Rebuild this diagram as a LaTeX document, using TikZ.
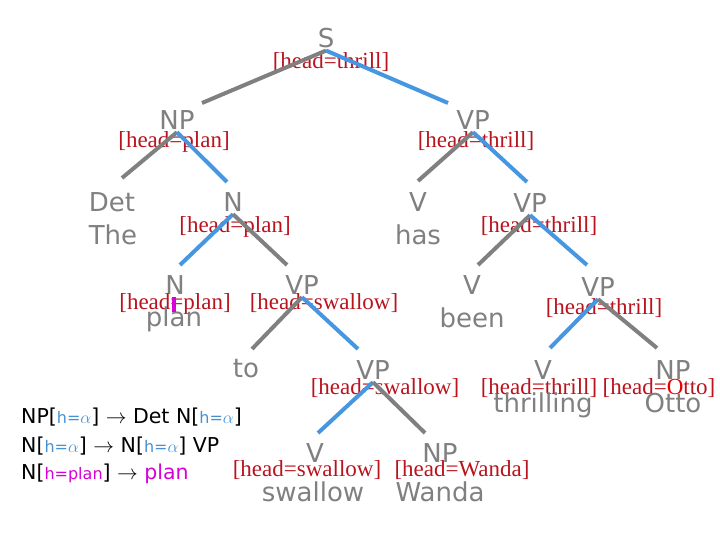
\documentclass[tikz,border=0pt]{standalone}
\usepackage{fontspec}
\setmainfont{Liberation Serif}
\setsansfont{DejaVu Sans}
\usepackage{xcolor}
\usepackage{tikz}
\usetikzlibrary{positioning}
\definecolor{catgray}{RGB}{128,128,128}
\definecolor{headred}{RGB}{185,20,30}
\definecolor{brightred}{RGB}{235,0,0}
\definecolor{edgeblue}{RGB}{70,150,225}
\definecolor{featblue}{RGB}{70,145,210}
\definecolor{plum}{RGB}{215,0,215}
\newcommand\feat[2]{[{\color{#1}\fontsize{16}{16}\selectfont #2}]}

\begin{document}
\begin{tikzpicture}[x=1pt,y=1pt,
  cat/.style={font=\fontsize{26}{28}\selectfont\sffamily, text=catgray, anchor=base, inner sep=2pt},
  word/.style={cat},
  head/.style={font=\fontsize{23}{25}\selectfont, text=headred, anchor=base, inner sep=0pt},
  gedge/.style={draw=catgray, line width=4pt},
  bedge/.style={draw=edgeblue, line width=4pt},
  rule/.style={font=\fontsize{20.5}{24}\selectfont\sffamily, anchor=base west, inner sep=0pt}]
  \useasboundingbox (0,0) rectangle (720,540);

  % level 0: S
  \node[cat] (S) at (326,492) {S};
  \node[head] (hS) at (331,471) {[head=thrill]};

  % level 1: NP + VP
  \node[cat] (NP1) at (177,410) {NP};
  \node[head] (hNP1) at (174,392) {[head=plan]};
  \coordinate (eNP1) at (202,437);
  \node[cat] (VP1) at (473,410) {VP};
  \node[head] (hVP1) at (476,392) {[head=thrill]};
  \coordinate (eVP1) at (448,437);

  % level 2: Det, N, V, VP
  \node[cat] (Det) at (112,328) {Det};
  \node[word] (wThe) at (113,295) {The};
  \coordinate (eDet) at (122,362);
  \node[cat] (N1) at (233,328) {N};
  \node[head] (hN1) at (235,307) {[head=plan]};
  \coordinate (eN1) at (227,358);
  \node[cat] (V1) at (418,328) {V};
  \node[word] (wHas) at (418,295) {has};
  \coordinate (eV1) at (418,359);
  \node[cat] (VP2) at (530,327) {VP};
  \node[head] (hVP2) at (539,307) {[head=thrill]};
  \coordinate (eVP2) at (527,358);

  % level 3
  \node[cat] (N2) at (175,245) {N};
  \node[head] (hN2) at (175,230) {[head=plan]};
  \node[word] (wPlan) at (174,213) {plan};
  \coordinate (eN2) at (180,275);
  \node[cat] (VP3) at (302,245) {VP};
  \node[head] (hVP3) at (324,230) {[head=swallow]};
  \coordinate (eVP3) at (287,275);
  \node[cat] (V2) at (472,245) {V};
  \node[word] (wBeen) at (472,212) {been};
  \coordinate (eV2) at (478,275);
  \node[cat] (VP4) at (598,243) {VP};
  \node[head] (hVP4) at (604,225) {[head=thrill]};
  \coordinate (eVP4) at (587,275);
  \draw[plum, line width=3.5pt] (174,243) -- (174,228);

  % level 4
  \node[word] (wTo) at (246,162) {to};
  \coordinate (eTo) at (252,191);
  \node[cat] (VP5) at (373,160) {VP};
  \node[head] (hVP5) at (385,145) {[head=swallow]};
  \coordinate (eVP5) at (358,191);
  \node[cat] (V3) at (543,160) {V};
  \node[head] (hV3) at (539,145) {[head=thrill]};
  \node[word] (wThrilling) at (543,127) {thrilling};
  \coordinate (eV3) at (550,192);
  \node[cat] (NP2) at (673,160) {NP};
  \node[head] (hNP2) at (659,145) {[head=\textcolor{brightred}{O}tto]};
  \node[word] (wOtto) at (673,127) {Otto};
  \coordinate (eNP2) at (657,192);

  % level 5
  \node[cat] (V4) at (315,77) {V};
  \node[head] (hV4) at (307,63) {[head=swallow]};
  \node[word] (wSwallow) at (313,38) {swallow};
  \coordinate (eV4) at (318,107);
  \node[cat] (NP3) at (440,77) {NP};
  \node[head] (hNP3) at (462,63) {[head=Wanda]};
  \node[word] (wWanda) at (440,38) {Wanda};
  \coordinate (eNP3) at (425,107);

  % edges, gray = non-head, blue = head
  \draw[gedge] (S.south) -- (eNP1);
  \draw[bedge] (S.south) -- (eVP1);
  \draw[gedge] (NP1.south) -- (eDet);
  \draw[bedge] (NP1.south) -- (eN1);
  \draw[bedge] (N1.south) -- (eN2);
  \draw[gedge] (N1.south) -- (eVP3);
  \draw[gedge] (VP3.south) -- (eTo);
  \draw[bedge] (VP3.south) -- (eVP5);
  \draw[bedge] (VP5.south) -- (eV4);
  \draw[gedge] (VP5.south) -- (eNP3);
  \draw[gedge] (VP1.south) -- (eV1);
  \draw[bedge] (VP1.south) -- (eVP2);
  \draw[gedge] (VP2.south) -- (eV2);
  \draw[bedge] (VP2.south) -- (eVP4);
  \draw[bedge] (VP4.south) -- (eV3);
  \draw[gedge] (VP4.south) -- (eNP2);

  % rules
  \node[rule] (r1) at (21,116) {NP\feat{featblue}{h=$\alpha$} $\rightarrow$ Det N\feat{featblue}{h=$\alpha$}};
  \node[rule] (r2) at (21,87) {N\feat{featblue}{h=$\alpha$} $\rightarrow$ N\feat{featblue}{h=$\alpha$} VP};
  \node[rule] (r3) at (21,60) {N\feat{plum}{h=plan} $\rightarrow$ {\color{plum}plan}};
\end{tikzpicture}
\end{document}
